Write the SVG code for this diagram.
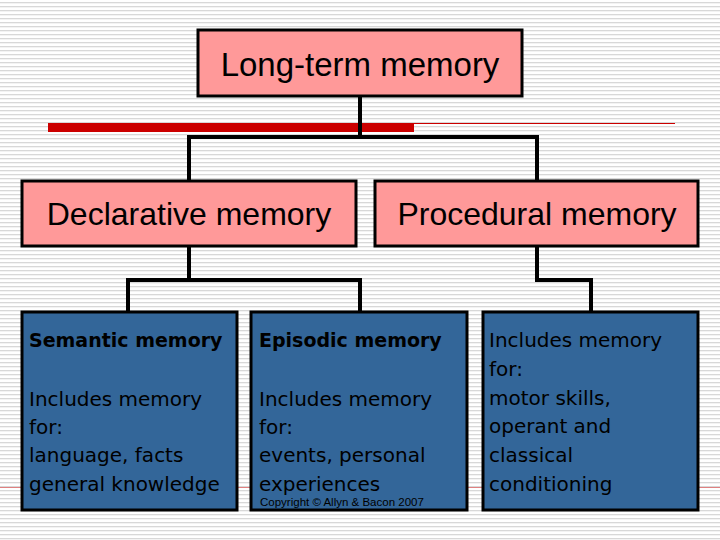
<svg xmlns="http://www.w3.org/2000/svg" width="720" height="540" viewBox="0 0 720 540">
<defs>
<pattern id="st" width="8" height="4" patternUnits="userSpaceOnUse"><rect width="8" height="4" fill="#ffffff"/><rect y="2" width="8" height="1.3" fill="#d8d8d8"/></pattern>
<style>
.pk{fill:#ff9999;stroke:#000;stroke-width:3}
.bl{fill:#336699;stroke:#000;stroke-width:3}
.c{fill:none;stroke:#000;stroke-width:4}
text{font-family:"Liberation Sans",Arial,sans-serif;fill:#000}
.b{font-family:Verdana,"DejaVu Sans",sans-serif;font-size:19px;font-weight:bold}
.s{font-family:Verdana,"DejaVu Sans",sans-serif;font-size:20px}
</style>
</defs>
<rect width="720" height="540" fill="url(#st)"/>
<rect x="48" y="123" width="366" height="9" fill="#cc0000"/>
<line x1="414" y1="123.5" x2="675" y2="123.5" stroke="#cc0000" stroke-width="1"/>
<line x1="0" y1="487.5" x2="720" y2="487.5" stroke="#e08080" stroke-width="1"/>
<g id="connectors">
<path class="c" d="M360 96V137M189 181V137H537V181"/>
<path class="c" d="M189 246V280M128 312V280H360V312"/>
<path class="c" d="M537 246V280H591V312"/>
</g>
<g id="ltm"><rect class="pk" x="198" y="30" width="324" height="66"/><text x="360" y="76" font-size="33" text-anchor="middle">Long-term memory</text></g>
<g id="decl"><rect class="pk" x="22" y="181" width="334" height="65"/><text x="189" y="225" font-size="32" text-anchor="middle">Declarative memory</text></g>
<g id="proc"><rect class="pk" x="375" y="181" width="323" height="65"/><text x="537" y="225" font-size="32" text-anchor="middle">Procedural memory</text></g>
<g id="sem"><rect class="bl" x="22" y="312" width="215" height="198"/>
<text class="b" x="29" y="347">Semantic memory</text>
<text class="s" x="29" y="406">Includes memory</text><text class="s" x="29" y="434">for:</text><text class="s" x="29" y="462">language, facts</text><text class="s" x="29" y="491">general knowledge</text></g>
<g id="epi"><rect class="bl" x="251" y="312" width="216" height="198"/>
<text class="b" x="259" y="347">Episodic memory</text>
<text class="s" x="259" y="406">Includes memory</text><text class="s" x="259" y="434">for:</text><text class="s" x="259" y="462">events, personal</text><text class="s" x="259" y="491">experiences</text>
<text x="260" y="506" font-size="11.5" font-family="Verdana,'DejaVu Sans',sans-serif">Copyright © Allyn &amp; Bacon 2007</text></g>
<g id="procd"><rect class="bl" x="483" y="312" width="215" height="198"/>
<text class="s" x="489" y="347">Includes memory</text><text class="s" x="489" y="376">for:</text><text class="s" x="489" y="405">motor skills,</text><text class="s" x="489" y="433">operant and</text><text class="s" x="489" y="462">classical</text><text class="s" x="489" y="491">conditioning</text></g>
</svg>
